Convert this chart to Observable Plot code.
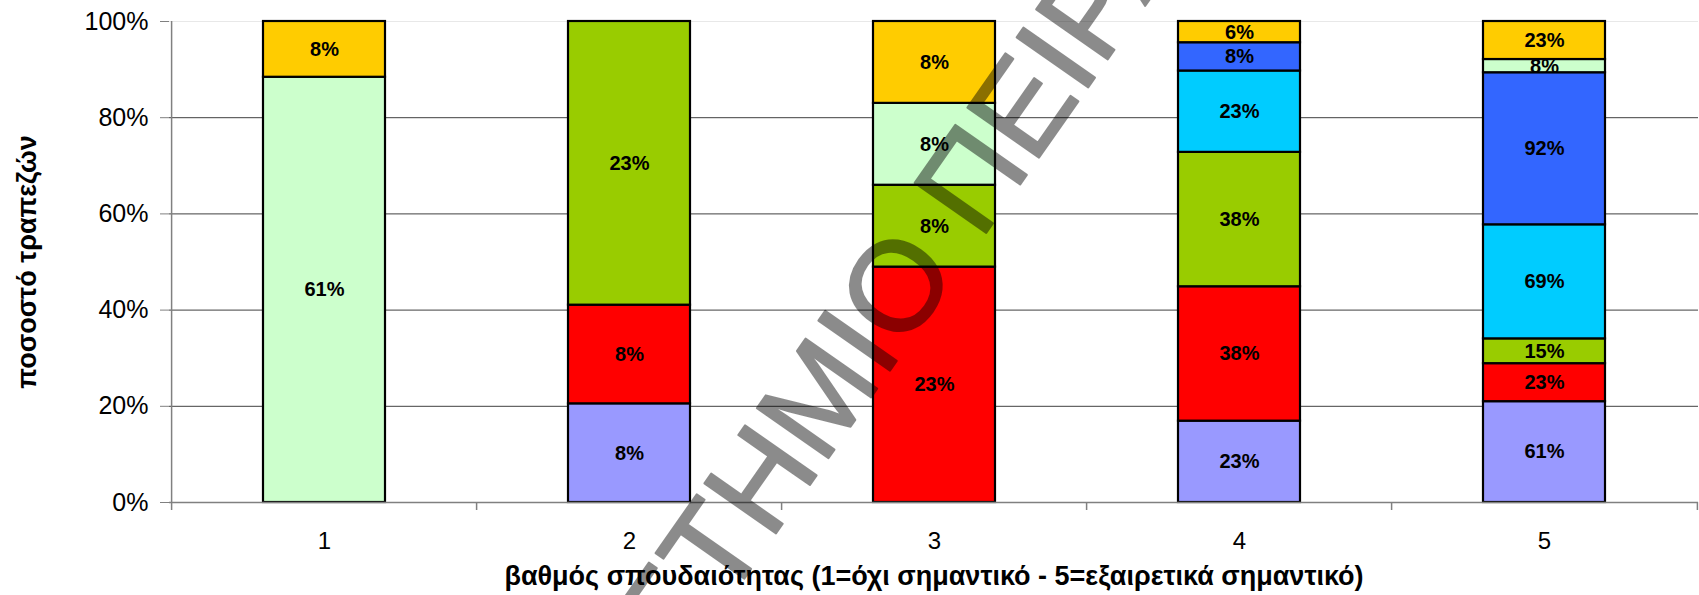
<!DOCTYPE html>
<html>
<head>
<meta charset="utf-8">
<script src="https://cdn.jsdelivr.net/npm/d3@7"></script>
<script src="https://cdn.jsdelivr.net/npm/@observablehq/plot@0.6"></script>
<style>
  html, body { margin: 0; padding: 0; background: white; overflow: hidden; }
  #chart svg { display: block; max-width: none; }
</style>
</head>
<body>
<div id="chart"></div>
<script>
// Importance grades on the x axis
const grades = ["1", "2", "3", "4", "5"];

// Stacked series, bottom to top, with their fills
const seriesNames = ["s1", "s2", "s3", "s4", "s5", "s6", "s7"];
const seriesColors = ["#9999FF", "#FF0000", "#99CC00", "#00CCFF", "#3366FF", "#CCFFCC", "#FFCC00"];

// Percentages per grade for each series (0 = no segment)
const s1 = [0, 8, 0, 23, 61];
const s2 = [0, 8, 23, 38, 23];
const s3 = [0, 23, 8, 38, 15];
const s4 = [0, 0, 0, 23, 69];
const s5 = [0, 0, 0, 8, 92];
const s6 = [61, 0, 8, 0, 8];
const s7 = [8, 0, 8, 6, 23];
const seriesValues = [s1, s2, s3, s4, s5, s6, s7];

const yTicks = [0, 0.2, 0.4, 0.6, 0.8, 1];
const yTitle = "ποσοστό τραπεζών";
const xTitle = "βαθμός σπουδαιότητας (1=όχι σημαντικό - 5=εξαιρετικά σημαντικό)";
const watermark = "ΠΑΝΕΠΙΣΤΗΜΙΟ ΠΕΙΡΑΙΩΣ";

const rows = [];
seriesNames.forEach((s, i) => {
  seriesValues[i].forEach((v, j) => {
    if (v > 0) rows.push({grade: grades[j], series: s, value: v});
  });
});

const W = 1699, H = 595;
const mL = 169, mR = 1, mT = 21, mB = 93;
const padIn = 0.6, padOut = 0.3;
const step = (W - mL - mR) / (grades.length - padIn + 2 * padOut);
const frameH = H - mT - mB;
const font = "Arial, 'Liberation Sans', sans-serif";

// Watermark: rotated text whose "Ο" (index 11) is centred on a given point
const wmSize = 127, wmAngle = 55;
const wmCenter = [898, 287];
const ctx = document.createElement("canvas").getContext("2d");
ctx.font = `${wmSize}px ${font}`;
const wmAdvance = ctx.measureText(watermark.slice(0, 11)).width + ctx.measureText(watermark[11]).width / 2;
const rad = wmAngle * Math.PI / 180;
const wmDx = wmCenter[0] - wmAdvance * Math.cos(rad) - mL;
const wmDy = wmCenter[1] + wmAdvance * Math.sin(rad) - mT;

const stackOpts = {x: "grade", y: "value", z: "series", order: seriesNames, offset: "normalize"};

const chart = Plot.plot({
  width: W,
  height: H,
  marginLeft: mL,
  marginRight: mR,
  marginTop: mT,
  marginBottom: mB,
  style: {fontFamily: font, fontSize: "25px", background: "white", color: "black"},
  x: {domain: grades, paddingInner: padIn, paddingOuter: padOut, align: 0.5},
  y: {domain: [0, 1]},
  color: {domain: seriesNames, range: seriesColors},
  marks: [
    // gridlines
    Plot.ruleY([0.2, 0.4, 0.6, 0.8], {stroke: "#404040", strokeWidth: 1}),
    Plot.ruleY([1], {stroke: "#e8e8e8", strokeWidth: 1}),
    // stacked columns
    Plot.barY(rows, Plot.stackY({...stackOpts, fill: "series", stroke: "black", strokeWidth: 2.2})),
    // baseline and axis lines
    Plot.ruleY([0], {stroke: "#808080", strokeWidth: 1.5}),
    Plot.ruleX([grades[0]], {x: d => d, dx: -step / 2, stroke: "#808080", strokeWidth: 1.5, insetBottom: -8}),
    Plot.ruleX(grades.slice(1), {x: d => d, dx: -step / 2, stroke: "#808080", strokeWidth: 1.5, insetTop: frameH, insetBottom: -8}),
    Plot.ruleX([grades[grades.length - 1]], {x: d => d, dx: step / 2, stroke: "#808080", strokeWidth: 1.5, insetTop: frameH, insetBottom: -8}),
    Plot.axisY({ticks: yTicks, tickFormat: d3.format(".0%"), tickSize: 9, tickPadding: 12, fontSize: 25, stroke: "#808080", fill: "black", label: null}),
    Plot.axisX({tickSize: 0, tickPadding: 29, fontSize: 24, fill: "black", label: null}),
    // segment labels
    Plot.text(rows, Plot.stackY({...stackOpts, text: d => `${d.value}%`, fontSize: 20, fontWeight: "bold", fill: "black"})),
    // axis titles
    Plot.text([yTitle], {text: d => d, frameAnchor: "left", textAnchor: "middle", lineAnchor: "middle", dx: -142, rotate: -90, fontSize: 27, fontWeight: "bold", fill: "black"}),
    Plot.text([xTitle], {text: d => d, frameAnchor: "bottom", textAnchor: "middle", lineAnchor: "middle", dy: 74, fontSize: 27, fontWeight: "bold", fill: "black"}),
    // diagonal watermark (whole-element opacity so fill and outline blend as one)
    Plot.text([watermark], {text: d => d, frameAnchor: "top-left", textAnchor: "start", lineAnchor: "middle", dx: wmDx, dy: wmDy, rotate: -wmAngle, fontSize: wmSize, fill: "black", stroke: "black", strokeWidth: 2, opacity: 0.45})
  ]
});

document.getElementById("chart").appendChild(chart);
</script>
</body>
</html>
